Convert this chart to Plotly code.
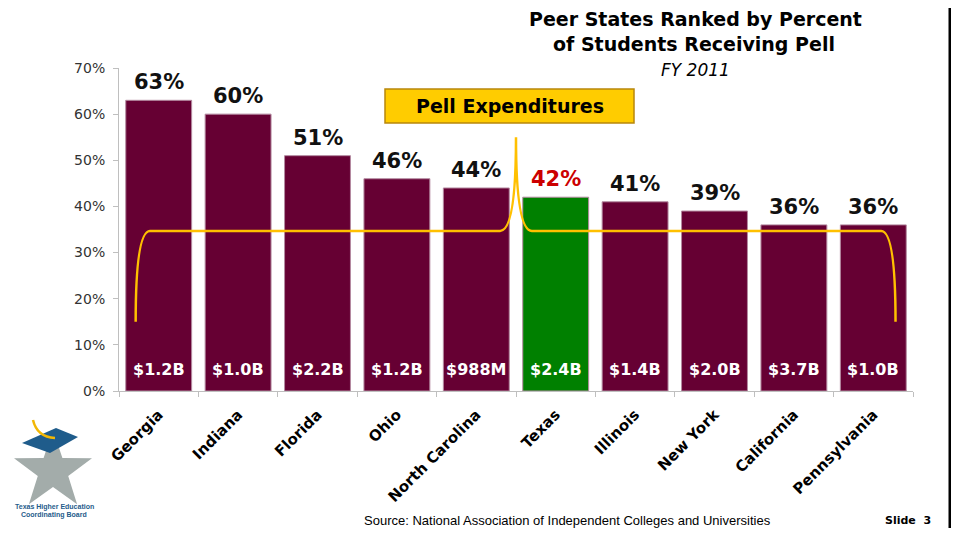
import math
import plotly.graph_objects as go

# ---- data ----
states = ["Georgia", "Indiana", "Florida", "Ohio", "North Carolina",
          "Texas", "Illinois", "New York", "California", "Pennsylvania"]
pct_pell = [63, 60, 51, 46, 44, 42, 41, 39, 36, 36]
pell_expenditures = ["$1.2B", "$1.0B", "$2.2B", "$1.2B", "$988M",
                     "$2.4B", "$1.4B", "$2.0B", "$3.7B", "$1.0B"]
highlight_state = "Texas"
y_ticks = [0, 10, 20, 30, 40, 50, 60, 70]
y_tick_labels = [f"{v}%" for v in y_ticks]

# ---- styling ----
OFF = 8                      # page body margin in the browser
PAGE_W, PAGE_H = 959, 536
W, H = PAGE_W - 2 * OFF, PAGE_H - 2 * OFF
# plot area in page pixels: x 119..913, y 68..391
ML, MR, MT = 119 - OFF, OFF + W - 913, 68 - OFF
MB = OFF + H - 391
PW, PH = W - ML - MR, H - MT - MB
YMAX = 70
MAROON = "#660033"
GREEN = "#008000"
GOLD = "#FFC000"
FONT = "DejaVu Sans"


def px(x):  # page pixel x -> paper
    return (x - OFF - ML) / PW


def py(y):  # page pixel y -> paper
    return (H - MB - (y - OFF)) / PH


def ix(i):  # category index -> paper x
    return (i + 0.5) / len(states)


def vy(v):  # value -> paper y
    return v / YMAX


colors = [GREEN if s == highlight_state else MAROON for s in states]

fig = go.Figure()
fig.add_trace(go.Bar(
    x=states, y=pct_pell,
    marker=dict(color=colors, line=dict(color="#b48aa0", width=1)),
    width=0.83, hoverinfo="skip",
))

annotations = []
for s, v, e in zip(states, pct_pell, pell_expenditures):
    annotations.append(dict(
        x=s, y=v, xref="x", yref="y", text=f"{v}%", showarrow=False,
        yanchor="bottom", yshift=4,
        font=dict(family=FONT, size=21, weight="bold",
                  color="#CC0000" if s == highlight_state else "#111111")))
    annotations.append(dict(
        x=s, y=0, xref="x", yref="y", text=e, showarrow=False,
        yanchor="bottom", yshift=10,
        font=dict(family=FONT, size=16, weight="bold", color="white")))

# titles and other slide text
annotations += [
    dict(x=px(695), y=py(19), xref="paper", yref="paper", showarrow=False,
         text="Peer States Ranked by Percent", xanchor="center", yanchor="middle",
         font=dict(family=FONT, size=19, weight="bold", color="black")),
    dict(x=px(694), y=py(44), xref="paper", yref="paper", showarrow=False,
         text="of Students Receiving Pell", xanchor="center", yanchor="middle",
         font=dict(family=FONT, size=19, weight="bold", color="black")),
    dict(x=px(695), y=py(70), xref="paper", yref="paper", showarrow=False,
         text="<i>FY 2011</i>", xanchor="center", yanchor="middle",
         font=dict(family=FONT, size=17, color="black")),
    dict(x=px(510), y=py(106), xref="paper", yref="paper", showarrow=False,
         text="Pell Expenditures", xanchor="center", yanchor="middle",
         font=dict(family=FONT, size=19, weight="bold", color="black")),
    dict(x=px(567), y=py(520), xref="paper", yref="paper", showarrow=False,
         text="Source: National Association of Independent Colleges and Universities",
         xanchor="center", yanchor="middle",
         font=dict(family="Liberation Sans", size=13, color="black")),
    dict(x=px(933), y=py(520), xref="paper", yref="paper", showarrow=False,
         text="Slide  3", xanchor="right", yanchor="middle",
         font=dict(family=FONT, size=11, weight="bold", color="black")),
    dict(x=px(54), y=py(507), xref="paper", yref="paper", showarrow=False,
         text="Texas Higher Education", xanchor="center", yanchor="middle",
         font=dict(family="Liberation Sans", size=7, weight="bold", color="#1F5C8B")),
    dict(x=px(54), y=py(515), xref="paper", yref="paper", showarrow=False,
         text="Coordinating Board", xanchor="center", yanchor="middle",
         font=dict(family="Liberation Sans", size=7, weight="bold", color="#1F5C8B")),
]

shapes = []
# Pell Expenditures box
shapes.append(dict(type="rect", xref="paper", yref="paper",
                   x0=px(385), x1=px(634), y0=py(123), y1=py(89),
                   fillcolor="#FFCC00", line=dict(color="#B8860B", width=1.5),
                   layer="above"))

# brace (decoration) in paper coordinates
bl, bc, bp, bh, bpk, bcr, br = -0.29, -0.11, 4.5, 34.7, 55, 9.1, 9.28
bb = 15
d = (f"M {ix(bl)},{vy(bb)} Q {ix(bl)},{vy(bh)} {ix(bc)},{vy(bh)} "
     f"L {ix(bp - 0.2)},{vy(bh)} Q {ix(bp)},{vy(bh)} {ix(bp)},{vy(bpk)} "
     f"Q {ix(bp)},{vy(bh)} {ix(bp + 0.2)},{vy(bh)} "
     f"L {ix(bcr)},{vy(bh)} Q {ix(br)},{vy(bh)} {ix(br)},{vy(bb)}")
shapes.append(dict(type="path", xref="paper", yref="paper", path=d,
                   line=dict(color=GOLD, width=2.5), layer="above"))

# logo: star
cx, cy, ro, ri = 53, 471, 41, 16
pts = []
for k in range(10):
    r = ro if k % 2 == 0 else ri
    a = math.radians(-90 + 36 * k)
    pts.append((cx + r * math.cos(a), cy + r * math.sin(a)))
star = "M " + " L ".join(f"{px(x)},{py(y)}" for x, y in pts) + " Z"
shapes.append(dict(type="path", xref="paper", yref="paper", path=star,
                   fillcolor="#A3ACAA", line=dict(width=0)))
# mortarboard
mb = [(22, 443), (56, 428), (78, 437), (50, 453)]
shapes.append(dict(type="path", xref="paper", yref="paper",
                   path="M " + " L ".join(f"{px(x)},{py(y)}" for x, y in mb) + " Z",
                   fillcolor="#1F5C8B", line=dict(width=0)))
shapes.append(dict(type="path", xref="paper", yref="paper",
                   path=f"M {px(33)},{py(420)} Q {px(37)},{py(437)} {px(55)},{py(438)}",
                   line=dict(color="#F2B705", width=2.5)))

# slide right border (at the figure's right edge)
shapes.append(dict(type="rect", xref="paper", yref="paper",
                   x0=px(OFF + W - 2.5), x1=px(OFF + W), y0=py(OFF), y1=py(OFF + H),
                   fillcolor="black", line=dict(width=0), layer="above"))

fig.update_layout(
    width=W, height=H,
    margin=dict(l=ML, r=MR, t=MT, b=MB),
    paper_bgcolor="white", plot_bgcolor="white",
    showlegend=False,
    annotations=annotations, shapes=shapes,
    xaxis=dict(type="category", tickson="boundaries", ticks="outside", ticklen=5,
               tickcolor="#bfbfbf", showline=True, linecolor="#bfbfbf", linewidth=1,
               tickangle=-45, showgrid=False, ticklabelstandoff=8,
               tickfont=dict(family=FONT, size=15, weight="bold", color="black")),
    yaxis=dict(range=[0, YMAX], tickvals=y_ticks, ticktext=y_tick_labels,
               showgrid=False, zeroline=False, showline=True, linecolor="#bfbfbf",
               linewidth=1, ticks="outside", ticklen=5, tickcolor="#bfbfbf",
               ticklabelstandoff=5,
               tickfont=dict(family=FONT, size=14, color="#333333")),
)

fig.write_html("out.html")
